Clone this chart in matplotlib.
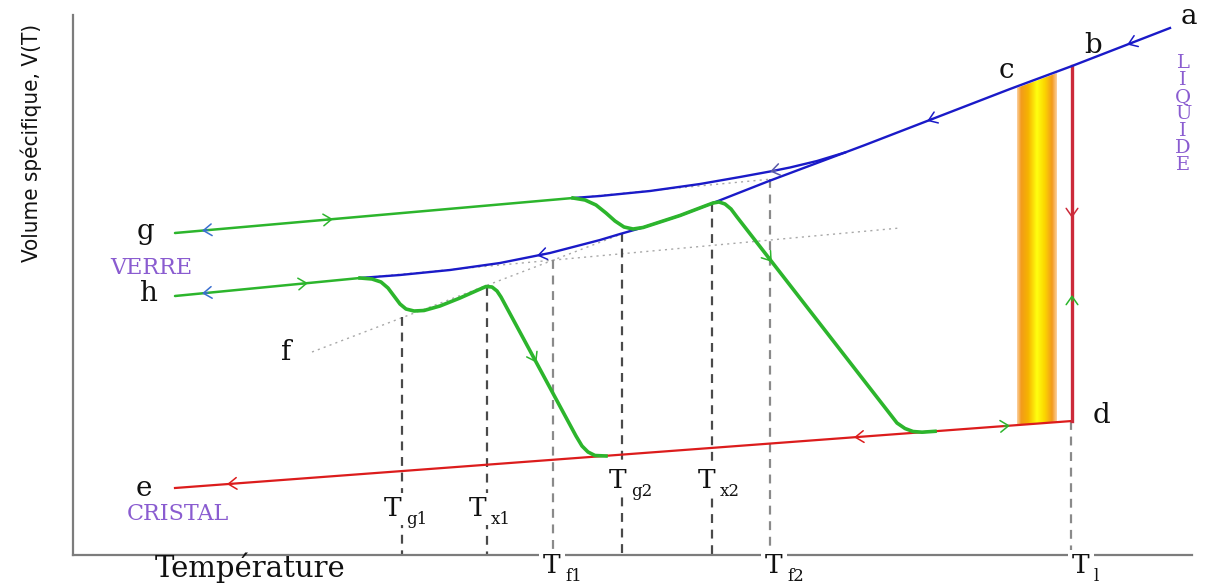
import numpy as np
import matplotlib
matplotlib.use('Agg')
import matplotlib.pyplot as plt
from matplotlib.colors import LinearSegmentedColormap
from matplotlib.patches import Polygon

# --- schematic data (pixel-like units, y grows downward) ---
crystal_x = [175, 1072]
crystal_y = [488, 421]

liquid_x = [713, 769, 865, 1010, 1072, 1170]
liquid_y = [203, 181, 145, 89, 66, 28]

# slow cooling branch below the split (ends at h)
lower_x = [360, 400, 450, 500, 550, 600, 620, 643, 680, 713]
lower_y = [278, 275, 270, 263, 253, 240, 234, 227.5, 215.5, 203]

# fast cooling branch above the split (ends at g)
upper_x = [573, 600, 650, 700, 740, 770, 790, 817, 845]
upper_y = [198, 196, 191, 184, 177, 171.5, 167.5, 161, 152.5]

glass_g_x = [175, 573]
glass_g_y = [233, 198]
glass_h_x = [175, 360]
glass_h_y = [296, 278]

# reheating of glass g
green1_x = [573, 585, 596, 606, 615, 624, 633, 643, 680, 705, 713, 719, 725, 731, 737,
            897, 905, 913, 922, 935]
green1_y = [198, 200, 205, 213, 221, 227, 229, 227.5, 215.5, 206, 203, 202, 204, 209, 217,
            423, 428.5, 431.5, 432.2, 431.3]

# reheating of glass h
green2_x = [360, 372, 381, 388, 394, 400, 406, 414, 424, 440, 460, 478, 486, 492, 497, 501,
            576, 582, 588, 595, 606]
green2_y = [278, 279, 282, 288, 296, 304, 309, 311, 310.5, 306, 298, 290, 286.5, 287, 291, 297,
            436, 446, 452, 455.5, 456]

melt_x = 1072
melt_top, melt_bottom = 66, 421

# dotted construction lines
dot_f_x = [312, 640]
dot_f_y = [352, 227]
dot_h_x = [360, 900]
dot_h_y = [278, 228]
dot_g_x = [573, 772]
dot_g_y = [198, 179]

# characteristic temperatures
t_names = ['g1', 'x1', 'f1', 'g2', 'x2', 'f2', 'l']
t_x = [402, 487, 553, 622, 712, 770, 1071]
t_top = [317, 287, 260, 233, 203, 179, 421]
t_dark = [True, True, False, True, True, False, False]
t_label_x = [393, 478, 552, 618, 707, 774, 1081]
t_label_y = [509, 509, 566, 481, 481, 566, 566]

point_names = ['a', 'b', 'c', 'd', 'e', 'f', 'g', 'h']
point_x = [1189, 1093, 1006, 1101, 144, 286, 146, 148]
point_y = [17, 46, 71, 416, 489, 353, 232, 294]

BLUE = '#1a1ac8'
GREEN = '#2cb52c'
RED = '#dc1c1c'
RED2 = '#cc2a3a'
PURPLE = '#8a5cd0'
ARROW_BLUE = '#3a6fd0'

AX_LEFT, AX_RIGHT, AX_TOP, AX_BOTTOM = 73, 1192, 15, 555
W, H = 1207, 586

fig = plt.figure(figsize=(W / 100, H / 100), dpi=100)
ax = fig.add_axes([AX_LEFT / W, 1 - AX_BOTTOM / H, (AX_RIGHT - AX_LEFT) / W, (AX_BOTTOM - AX_TOP) / H])
ax.set_xlim(AX_LEFT, AX_RIGHT)
ax.set_ylim(AX_BOTTOM, AX_TOP)
for side in ['top', 'right']:
    ax.spines[side].set_visible(False)
for side in ['left', 'bottom']:
    ax.spines[side].set_color('#7c7c7c')
    ax.spines[side].set_linewidth(1.6)
ax.set_xticks([])
ax.set_yticks([])


def liquid_at(x):
    return np.interp(x, liquid_x, liquid_y)


def crystal_at(x):
    return np.interp(x, crystal_x, crystal_y)


# crystallisation band
band_cmap = LinearSegmentedColormap.from_list('band', [
    (0.0, '#fbd0a0'), (0.1, '#f39a1c'), (0.28, '#f6b400'), (0.5, '#ffff10'),
    (0.7, '#fbd400'), (0.88, '#f39a1c'), (1.0, '#fbd0a0')])
band_left, band_right = 1017, 1057
gradient = np.linspace(0, 1, 200)[None, :]
im = ax.imshow(gradient, cmap=band_cmap, extent=[band_left, band_right, 430, 60],
               aspect='auto', zorder=1, interpolation='bilinear')
clip = Polygon([(band_left, liquid_at(band_left) + 1.5), (band_right, liquid_at(band_right) + 1.5),
                (band_right, crystal_at(band_right)), (band_left, crystal_at(band_left))],
               transform=ax.transData, facecolor='none', edgecolor='none')
ax.add_patch(clip)
im.set_clip_path(clip)
ax.set_xlim(AX_LEFT, AX_RIGHT)
ax.set_ylim(AX_BOTTOM, AX_TOP)

# dotted construction lines
for xs, ys in [(dot_f_x, dot_f_y), (dot_h_x, dot_h_y), (dot_g_x, dot_g_y)]:
    ax.plot(xs, ys, color='#a8a8a8', lw=1.0, ls=(0, (1.5, 3)), zorder=2)

# dashed verticals
for x, top, dark in zip(t_x, t_top, t_dark):
    ax.plot([x, x], [top, AX_BOTTOM], color='#4a4a4a' if dark else '#8a8a8a',
            lw=1.6, ls=(0, (4, 3)), zorder=2, clip_on=False)

# curves
ax.plot(crystal_x, crystal_y, color=RED, lw=1.6, zorder=3)
ax.plot([melt_x, melt_x], [melt_top, melt_bottom], color=RED2, lw=2.4, zorder=3)
ax.plot(liquid_x, liquid_y, color=BLUE, lw=1.7, zorder=4)
ax.plot(lower_x, lower_y, color=BLUE, lw=1.7, zorder=4)
ax.plot(upper_x, upper_y, color=BLUE, lw=1.7, zorder=4)
ax.plot(glass_g_x, glass_g_y, color=GREEN, lw=1.8, zorder=5, solid_capstyle='round')
ax.plot(glass_h_x, glass_h_y, color=GREEN, lw=1.8, zorder=5, solid_capstyle='round')
ax.plot(green1_x, green1_y, color=GREEN, lw=2.6, zorder=5, solid_joinstyle='round')
ax.plot(green2_x, green2_y, color=GREEN, lw=2.6, zorder=5, solid_joinstyle='round')


def arrow_on(xs, ys, x, sign, color):
    xs = np.asarray(xs, float)
    ys = np.asarray(ys, float)
    y = np.interp(x, xs, ys)
    dx = 3.0
    dy = np.interp(x + dx, xs, ys) - np.interp(x - dx, xs, ys)
    v = np.array([2 * dx, dy]) * sign
    v = v / np.hypot(*v)
    ax.annotate('', xy=(x + 3 * v[0], y + 3 * v[1]), xytext=(x - 3 * v[0], y - 3 * v[1]),
                arrowprops=dict(arrowstyle='->,head_length=0.5,head_width=0.35', color=color,
                                lw=1.1, shrinkA=0, shrinkB=0, mutation_scale=12), zorder=6)


arrow_on(liquid_x, liquid_y, 1130, -1, BLUE)
arrow_on(liquid_x, liquid_y, 930, -1, BLUE)
arrow_on(upper_x, upper_y, 773, -1, '#5a5aa8')
arrow_on(lower_x, lower_y, 540, -1, BLUE)
arrow_on(glass_g_x, glass_g_y, 205, -1, ARROW_BLUE)
arrow_on(glass_g_x, glass_g_y, 330, 1, GREEN)
arrow_on(glass_h_x, glass_h_y, 205, -1, ARROW_BLUE)
arrow_on(glass_h_x, glass_h_y, 305, 1, GREEN)
arrow_on(green2_x, green2_y, 535, 1, GREEN)
arrow_on(green1_x, green1_y, 770, 1, GREEN)
arrow_on(crystal_x, crystal_y, 230, -1, RED)
arrow_on(crystal_x, crystal_y, 857, -1, RED)
arrow_on(crystal_x, crystal_y, 1007, 1, GREEN)
for y0, sgn, col in [(215, 1, RED2), (298, -1, GREEN)]:
    ax.annotate('', xy=(melt_x, y0 + 3 * sgn), xytext=(melt_x, y0 - 3 * sgn),
                arrowprops=dict(arrowstyle='->,head_length=0.5,head_width=0.35', color=col,
                                lw=1.1, shrinkA=0, shrinkB=0, mutation_scale=12), zorder=6)

# labels
serif = 'DejaVu Serif'
for name, x, y in zip(point_names, point_x, point_y):
    ax.text(x, y, name, family=serif, fontsize=20, ha='center', va='center',
            color='#111111', zorder=7, clip_on=False)

for name, lx, ly in zip(t_names, t_label_x, t_label_y):
    ax.text(lx, ly, 'T', family=serif, fontsize=19, ha='center', va='center', color='#111111',
            zorder=7, clip_on=False,
            bbox=dict(boxstyle='square,pad=0.15', facecolor='white', edgecolor='none'))
    ax.text(lx + 13, ly + 11, name, family=serif, fontsize=12, ha='left', va='center',
            color='#111111', zorder=7, clip_on=False)

ax.text(151, 268, 'VERRE', family=serif, fontsize=16, ha='center', va='center',
        color=PURPLE, zorder=7, clip_on=False)
ax.text(178, 514, 'CRISTAL', family=serif, fontsize=16, ha='center', va='center',
        color=PURPLE, zorder=7, clip_on=False)
ax.text(1183, 114, '\n'.join('LIQUIDE'), family=serif, fontsize=14, ha='center', va='center',
        multialignment='center', linespacing=0.93, color=PURPLE, zorder=7, clip_on=False)

ax.text(250, 568, 'Température', family=serif, fontsize=21, ha='center', va='center',
        color='#111111', clip_on=False)
ax.text(31, 143, 'Volume spécifique, V(T)', family='DejaVu Sans', fontstretch='condensed',
        fontsize=16, rotation=90, ha='center', va='center', color='#111111', clip_on=False)

fig.savefig('out.png', dpi=100, facecolor='white')
